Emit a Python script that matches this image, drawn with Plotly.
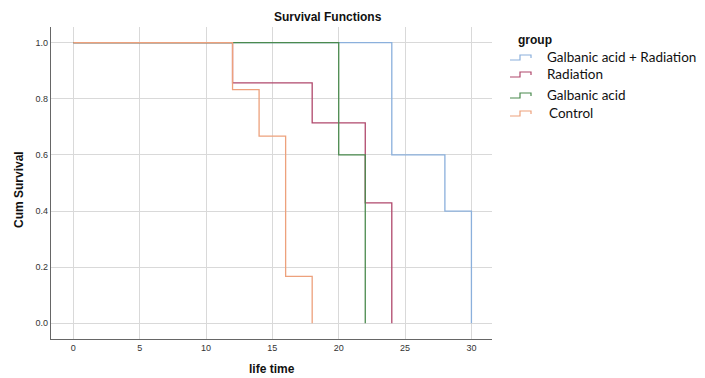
import plotly.graph_objects as go

groups = ["Galbanic acid + Radiation", "Radiation", "Galbanic acid", "Control"]
times = {
    "Galbanic acid + Radiation": [0, 24, 28, 30],
    "Radiation": [0, 12, 18, 22, 24],
    "Galbanic acid": [0, 20, 22],
    "Control": [0, 12, 14, 16, 18],
}
survival = {
    "Galbanic acid + Radiation": [1.0, 0.6, 0.4, 0.0],
    "Radiation": [1.0, 0.857, 0.714, 0.429, 0.0],
    "Galbanic acid": [1.0, 0.6, 0.0],
    "Control": [1.0, 0.833, 0.667, 0.167, 0.0],
}
colors = {
    "Galbanic acid + Radiation": "#8bb0dc",
    "Radiation": "#b0486c",
    "Galbanic acid": "#4a8a4e",
    "Control": "#eda17c",
}
x_ticks = [0, 5, 10, 15, 20, 25, 30]
y_ticks = [0.0, 0.2, 0.4, 0.6, 0.8, 1.0]

OFF = 8  # page body margin
W, H = 705 - OFF, 378 - OFF
L, R, T, B = 51 - OFF, 492 - OFF, 27 - OFF, 339 - OFF

def px(x):
    return (x - OFF - L) / (R - L)

def py(y):
    return (B - (y - OFF)) / (B - T)

fig = go.Figure()
for g in groups:
    fig.add_trace(go.Scatter(
        x=times[g], y=survival[g], mode="lines", line_shape="hv",
        line=dict(color=colors[g], width=1.3), name=g, showlegend=False,
        hoverinfo="skip"))

fig.update_layout(
    width=W, height=H,
    margin=dict(l=L, r=W - R, t=T, b=H - B),
    paper_bgcolor="white", plot_bgcolor="white",
    font=dict(family="Liberation Sans, Arial", color="#222"),
    xaxis=dict(range=[-1.68, 31.55], tickvals=x_ticks, ticktext=[str(v) for v in x_ticks],
               showgrid=True, gridcolor="#d9d9d9", gridwidth=1, zeroline=False,
               showline=True, linecolor="#666", linewidth=1.2, ticks="",
               tickfont=dict(size=9, color="#333")),
    yaxis=dict(range=[-0.056, 1.056], tickvals=y_ticks, ticktext=[f"{v:.1f}" for v in y_ticks],
               showgrid=True, gridcolor="#d9d9d9", gridwidth=1, zeroline=False,
               showline=True, linecolor="#666", linewidth=1.2, ticks="",
               tickfont=dict(size=9, color="#333")),
)

ann = []
ann.append(dict(text="<b>Survival Functions</b>", x=px(328), y=py(17), xref="paper", yref="paper",
                showarrow=False, font=dict(size=12, family="Liberation Sans, Arial", color="#111"),
                xanchor="center", yanchor="middle"))
ann.append(dict(text="<b>life time</b>", x=px(272), y=py(369), xref="paper", yref="paper",
                showarrow=False, font=dict(size=12, family="Liberation Sans, Arial", color="#111"),
                xanchor="center", yanchor="middle"))
ann.append(dict(text="<b>Cum Survival</b>", x=px(19), y=py(190), xref="paper", yref="paper",
                showarrow=False, textangle=-90, font=dict(size=12, family="Liberation Sans, Arial", color="#111"),
                xanchor="center", yanchor="middle"))
ann.append(dict(text="<b>group</b>", x=px(516), y=py(40), xref="paper", yref="paper",
                showarrow=False, font=dict(size=12, family="Liberation Sans, Arial", color="#111"),
                xanchor="left", yanchor="middle"))

legend_y = [57, 74, 95, 113]
legend_x = [545, 545, 545, 547]
shapes = []
for g, ly, lx in zip(groups, legend_y, legend_x):
    ann.append(dict(text=g, x=px(lx), y=py(ly), xref="paper", yref="paper", showarrow=False,
                    font=dict(size=13.5, family="Lato, Open Sans, sans-serif", color="#111"),
                    xanchor="left", yanchor="middle"))
    x0, x1, x2 = px(510), px(520), px(531)
    ylo, yhi = py(ly + 3), py(ly - 2)
    path = f"M {x0} {ylo} L {x1} {ylo} L {x1} {yhi} L {x2} {yhi} L {x2} {py(ly + 1)}"
    shapes.append(dict(type="path", path=path, xref="paper", yref="paper",
                       line=dict(color=colors[g], width=1.2)))

fig.update_layout(annotations=ann, shapes=shapes)
fig.write_html("out.html")
